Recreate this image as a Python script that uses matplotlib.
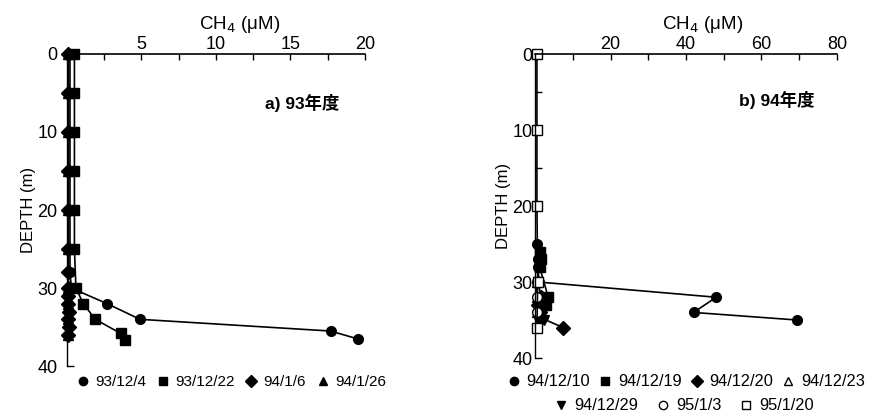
import numpy as np
import matplotlib.pyplot as plt
from matplotlib.lines import Line2D

plt.rcParams['font.family'] = ['Liberation Sans', 'Noto Sans CJK JP', 'DejaVu Sans']

# a) 93年度
a_1204_depth = [0, 5, 10, 15, 20, 25, 28, 30, 32, 34, 35.5, 36.5]
a_1204_ch4 = [0.2, 0.2, 0.2, 0.2, 0.2, 0.2, 0.2, 0.3, 2.7, 4.9, 17.7, 19.5]
a_1222_depth = [0, 5, 10, 15, 20, 25, 30, 32, 34, 35.8, 36.6]
a_1222_ch4 = [0.5, 0.5, 0.5, 0.5, 0.5, 0.5, 0.6, 1.1, 1.9, 3.6, 3.9]
a_0106_depth = [0, 5, 10, 15, 20, 25, 28, 30, 31, 32, 33, 34, 35, 36]
a_0106_ch4 = [0.1, 0.1, 0.1, 0.1, 0.1, 0.1, 0.1, 0.1, 0.1, 0.1, 0.15, 0.1, 0.15, 0.1]
a_0126_depth = [0, 5, 10, 15, 20, 25, 30, 32, 34, 36]
a_0126_ch4 = [0.1, 0.1, 0.1, 0.1, 0.1, 0.1, 0.1, 0.1, 0.1, 0.1]

# b) 94年度
b_1210_depth = [25, 27, 28, 30, 32, 34, 35]
b_1210_ch4 = [0.6, 0.7, 0.8, 1.0, 48, 42, 69.5]
b_1219_depth = [26, 27, 28, 32, 33]
b_1219_ch4 = [1.2, 1.5, 1.2, 3.5, 3.0]
b_1220_depth = [32, 33, 34, 34.7, 36]
b_1220_ch4 = [1.5, 0.8, 1.2, 1.5, 7.5]
b_1223_depth = [30, 32, 34]
b_1223_ch4 = [0.5, 0.6, 0.6]
b_1229_depth = [30, 33, 35]
b_1229_ch4 = [0.8, 2.0, 2.5]
b_0103_depth = [30, 32, 34, 36]
b_0103_ch4 = [0.5, 0.6, 0.6, 0.5]
b_0120_depth = [0, 10, 20, 30, 36]
b_0120_ch4 = [0.5, 0.5, 0.5, 0.7, 0.5]

a_series = [
    ('93/12/4', a_1204_ch4, a_1204_depth, 'o', 'black'),
    ('93/12/22', a_1222_ch4, a_1222_depth, 's', 'black'),
    ('94/1/6', a_0106_ch4, a_0106_depth, 'D', 'black'),
    ('94/1/26', a_0126_ch4, a_0126_depth, '^', 'black'),
]
b_series = [
    ('94/12/10', b_1210_ch4, b_1210_depth, 'o', 'black'),
    ('94/12/19', b_1219_ch4, b_1219_depth, 's', 'black'),
    ('94/12/20', b_1220_ch4, b_1220_depth, 'D', 'black'),
    ('94/12/23', b_1223_ch4, b_1223_depth, '^', 'white'),
    ('94/12/29', b_1229_ch4, b_1229_depth, 'v', 'black'),
    ('95/1/3', b_0103_ch4, b_0103_depth, 'o', 'white'),
    ('95/1/20', b_0120_ch4, b_0120_depth, 's', 'white'),
]

fig = plt.figure(figsize=(8.7, 4.18), dpi=100)
ax1 = fig.add_axes([0.077, 0.124, 0.3425, 0.747])
ax2 = fig.add_axes([0.615, 0.1435, 0.347, 0.727])


def style_axis(ax, xmax, xminor, label_ticks, ypad, xlab_x):
    ax.set_xlim(0, xmax)
    ax.set_ylim(40, 0)
    for s in ['right', 'bottom']:
        ax.spines[s].set_visible(False)
    ax.spines['top'].set_linewidth(1.2)
    ax.spines['left'].set_linewidth(1.0)
    ax.xaxis.set_ticks_position('top')
    ax.xaxis.set_label_position('top')
    xt = np.arange(0, xmax + 0.01, xminor)
    ax.set_xticks(xt)
    ax.set_xticklabels([str(int(v)) if (v in label_ticks) else '' for v in xt])
    ax.set_yticks([0, 10, 20, 30, 40])
    ax.set_yticks([5, 15, 25, 35], minor=True)
    ax.tick_params(axis='x', direction='in', length=4, width=1, labelsize=13, pad=1)
    ax.tick_params(axis='y', direction='in', length=5, width=1, labelsize=13, pad=ypad)
    ax.tick_params(axis='y', which='minor', direction='in', length=5, width=1)
    ax.set_xlabel('CH$_4$ (μM)', fontsize=13.5, labelpad=5, x=xlab_x)
    ax.set_ylabel('DEPTH (m)', fontsize=12, labelpad=1)
    ax.patch.set_alpha(0)


style_axis(ax1, 20, 2.5, [5, 10, 15, 20], 7, 0.58)
style_axis(ax2, 80, 10, [20, 40, 60, 80], 2, 0.556)

for name, x, y, m, fc in a_series:
    ax1.plot(x, y, color='black', lw=1.2, marker=m, ms=7, mfc=fc, mec='black', clip_on=False)
for name, x, y, m, fc in b_series:
    ax2.plot(x, y, color='black', lw=1.2, marker=m, ms=7, mfc=fc, mec='black', clip_on=False)

ax1.text(13.3, 6.3, 'a) 93年度', fontsize=12.5, fontweight='bold', va='center')
ax2.text(54, 6.0, 'b) 94年度', fontsize=12.5, fontweight='bold', va='center')


def handles(series):
    return [Line2D([0], [0], marker=m, color='none', mfc=fc, mec='black', ms=6, label=n)
            for n, x, y, m, fc in series]


leg_kw = dict(frameon=False, handlelength=0.6, handletextpad=0.5, borderpad=0)
fig.legend(handles=handles(a_series), loc='center', bbox_to_anchor=(232 / 870, 1 - 382 / 418),
           ncol=4, fontsize=11, columnspacing=0.8, **leg_kw)
fig.legend(handles=handles(b_series[:4]), loc='center', bbox_to_anchor=(687 / 870, 1 - 382 / 418),
           ncol=4, fontsize=11.8, columnspacing=0.6, **leg_kw)
fig.legend(handles=handles(b_series[4:]), loc='center', bbox_to_anchor=(685 / 870, 1 - 406 / 418),
           ncol=3, fontsize=11.8, columnspacing=1.2, **leg_kw)

plt.savefig('out.png', dpi=100)
